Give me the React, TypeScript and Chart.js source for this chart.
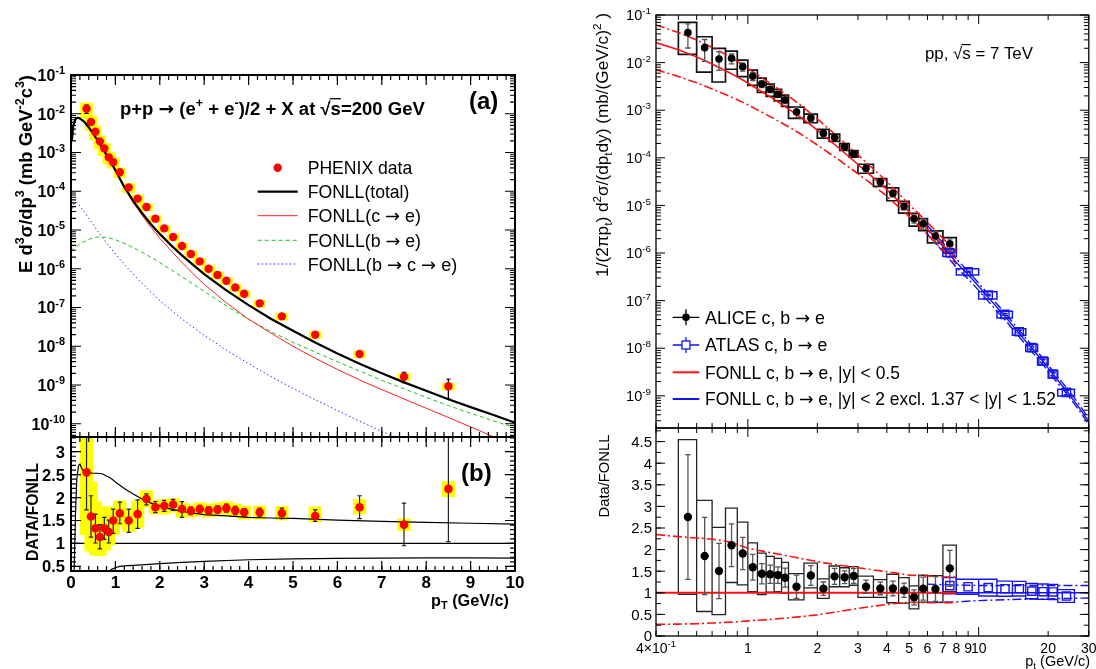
import React, { useEffect, useRef } from 'react';
import { Chart, registerables } from 'chart.js';
Chart.register(...registerables);

const W = 1096;
const H = 669;
const FONT = '"Liberation Sans", Arial, Helvetica, sans-serif';
const ARROW_FONT = '"DejaVu Sans", "Liberation Sans", sans-serif';

// ================= LEFT: PHENIX p+p, sqrt(s)=200 GeV =================
const PHENIX_PT = [0.35, 0.45, 0.55, 0.65, 0.75, 0.85, 0.95, 1.1, 1.3, 1.5, 1.7, 1.9, 2.1, 2.3, 2.5, 2.7, 2.9, 3.1, 3.3, 3.5, 3.7, 3.9, 4.25, 4.75, 5.5, 6.5, 7.5, 8.5];
const PHENIX_YIELD = [1.35e-2, 6.1e-3, 3.45e-3, 1.94e-3, 1.28e-3, 7.5e-4, 5.6e-4, 3.1e-4, 1.26e-4, 6.45e-5, 3.93e-5, 1.96e-5, 1.1e-5, 6.6e-6, 3.86e-6, 2.4e-6, 1.55e-6, 1.0e-6, 6.9e-7, 4.9e-7, 3.3e-7, 2.27e-7, 1.28e-7, 5.9e-8, 1.99e-8, 6.3e-9, 1.64e-9, 9.25e-10];
const PHENIX_STAT_REL = [0.25, 0.15, 0.1, 0.08, 0.08, 0.08, 0.08, 0.06, 0.06, 0.06, 0.05, 0.05, 0.05, 0.05, 0.05, 0.05, 0.05, 0.05, 0.05, 0.05, 0.05, 0.05, 0.06, 0.07, 0.08, 0.14, 0.3, 0.53];
const PHENIX_SYS_REL = [0.42, 0.4, 0.38, 0.36, 0.34, 0.32, 0.3, 0.28, 0.27, 0.25, 0.2, 0.2, 0.2, 0.2, 0.2, 0.2, 0.2, 0.2, 0.2, 0.2, 0.2, 0.2, 0.2, 0.2, 0.2, 0.2, 0.2, 0.2];

const PHENIX_RATIO = [2.55, 1.587, 1.33, 1.14, 1.33, 1.25, 1.5, 1.66, 1.5, 1.64, 1.97, 1.79, 1.82, 1.85, 1.75, 1.71, 1.75, 1.72, 1.74, 1.77, 1.72, 1.68, 1.68, 1.66, 1.6, 1.79, 1.41, 2.19];
const PHENIX_RATIO_STAT_LO = [1.73, 1.14, 1.01, 0.88, 1.09, 1.01, 1.22, 1.43, 1.24, 1.33, 1.84, 1.67, 1.7, 1.72, 1.57, 1.63, 1.67, 1.64, 1.66, 1.68, 1.63, 1.58, 1.58, 1.54, 1.48, 1.54, 0.95, 1.04];
const PHENIX_RATIO_STAT_HI = [3.6, 2.04, 1.64, 1.41, 1.57, 1.51, 1.75, 1.9, 1.75, 1.95, 2.08, 1.91, 1.94, 1.96, 1.91, 1.79, 1.83, 1.8, 1.82, 1.86, 1.81, 1.76, 1.77, 1.77, 1.73, 2.04, 1.88, 3.6];
const PHENIX_RATIO_SYS_LO = [1.19, 0.83, 0.75, 0.73, 0.85, 0.97, 1.19, 1.37, 1.26, 1.35, 1.79, 1.64, 1.64, 1.68, 1.57, 1.58, 1.6, 1.58, 1.6, 1.63, 1.58, 1.53, 1.53, 1.51, 1.47, 1.64, 1.28, 2.02];
const PHENIX_RATIO_SYS_HI = [3.6, 2.33, 1.91, 1.7, 1.8, 1.77, 1.8, 1.93, 1.75, 1.93, 2.15, 1.94, 1.96, 1.98, 1.88, 1.84, 1.89, 1.86, 1.88, 1.91, 1.86, 1.82, 1.82, 1.81, 1.8, 1.96, 1.54, 2.35];

const LEFT_FONLL_PT = [0.02, 0.05, 0.1, 0.15, 0.2, 0.3, 0.4, 0.5, 0.6, 0.7, 0.8, 0.9, 1.0, 1.2, 1.4, 1.6, 1.8, 2.0, 2.25, 2.5, 2.75, 3.0, 3.5, 4.0, 4.5, 5.0, 5.5, 6.0, 6.5, 7.0, 7.5, 8.0, 8.5, 9.0, 9.5, 10.0];
const FONLL_TOTAL = [2.0e-3, 5.01e-3, 7.24e-3, 7.94e-3, 7.59e-3, 6.17e-3, 4.47e-3, 3.09e-3, 2.04e-3, 1.35e-3, 8.71e-4, 5.5e-4, 3.47e-4, 1.29e-4, 5.62e-5, 2.75e-5, 1.41e-5, 7.94e-6, 4.07e-6, 2.21e-6, 1.26e-6, 7.24e-7, 2.78e-7, 1.15e-7, 5.13e-8, 2.51e-8, 1.245e-8, 6.46e-9, 3.52e-9, 2.0e-9, 1.17e-9, 7.08e-10, 4.27e-10, 2.69e-10, 1.7e-10, 1.07e-10];
const FONLL_C = [2.0e-3, 5.01e-3, 7.24e-3, 7.94e-3, 7.59e-3, 6.17e-3, 4.47e-3, 3.09e-3, 2.04e-3, 1.35e-3, 8.71e-4, 5.5e-4, 3.39e-4, 1.23e-4, 5.13e-5, 2.4e-5, 1.17e-5, 6.17e-6, 2.95e-6, 1.45e-6, 7.41e-7, 3.98e-7, 1.32e-7, 5.01e-8, 2.19e-8, 1.0e-8, 4.9e-9, 2.51e-9, 1.35e-9, 7.59e-10, 4.37e-10, 2.51e-10, 1.45e-10, 8.32e-11, 4.68e-11, 2.63e-11];
const FONLL_B_PT = [0, 0.2, 0.4, 0.6, 0.8, 1.0, 1.25, 1.5, 1.75, 2.0, 2.5, 3.0, 3.5, 4.0, 4.5, 5.0, 5.5, 6.0, 6.5, 7.0, 7.5, 8.0, 8.5, 9.0, 9.5, 10.0];
const FONLL_B = [2.88e-6, 4.37e-6, 5.75e-6, 6.61e-6, 6.46e-6, 5.62e-6, 4.27e-6, 3.09e-6, 2.14e-6, 1.45e-6, 6.17e-7, 2.63e-7, 1.1e-7, 4.9e-8, 2.4e-8, 1.26e-8, 7.08e-9, 3.98e-9, 2.29e-9, 1.32e-9, 7.94e-10, 4.79e-10, 2.95e-10, 1.86e-10, 1.2e-10, 7.94e-11];
const FONLL_BC_PT = [0, 0.05, 0.12, 0.2, 0.3, 0.4, 0.5, 0.6, 0.8, 1.0, 1.25, 1.5, 1.75, 2.0, 2.5, 3.0, 3.5, 4.0, 4.5, 5.0, 5.5, 6.0, 6.5, 7.0, 7.5];
const FONLL_BC = [2.82e-5, 4.47e-5, 5.25e-5, 4.17e-5, 2.95e-5, 2.0e-5, 1.38e-5, 9.33e-6, 4.68e-6, 2.4e-6, 1.12e-6, 5.5e-7, 2.82e-7, 1.51e-7, 5.01e-8, 1.91e-8, 7.94e-9, 3.55e-9, 1.66e-9, 8.13e-10, 4.17e-10, 2.19e-10, 1.17e-10, 6.31e-11, 3.55e-11];

const BAND_UP_PT = [0.07, 0.1, 0.13, 0.17, 0.2, 0.25, 0.3, 0.4, 0.5, 0.6, 0.7, 0.8, 0.9, 1.0, 1.2, 1.4, 1.6, 1.8, 2.0, 2.25, 2.5, 2.75, 3.0, 3.5, 4.0, 4.5, 5.0, 6.0, 7.0, 8.0, 9.0, 10.0];
const BAND_UP = [0.4, 1.6, 2.4, 2.7, 2.73, 2.62, 2.56, 2.54, 2.53, 2.53, 2.52, 2.47, 2.42, 2.34, 2.2, 2.08, 1.97, 1.88, 1.82, 1.75, 1.7, 1.66, 1.63, 1.6, 1.57, 1.555, 1.545, 1.51, 1.48, 1.46, 1.44, 1.42];
const BAND_LO_PT = [0.85, 0.9, 1.0, 1.1, 1.2, 1.5, 2.0, 2.5, 3.0, 4.0, 5.0, 6.0, 7.0, 8.0, 9.0, 10.0];
const BAND_LO = [0.38, 0.43, 0.47, 0.5, 0.51, 0.53, 0.56, 0.59, 0.61, 0.645, 0.665, 0.675, 0.68, 0.685, 0.685, 0.68];
const UNITY_X = [0, 10];
const UNITY_Y = [1, 1];

const LT_Y_TICKS = [1e-1, 1e-2, 1e-3, 1e-4, 1e-5, 1e-6, 1e-7, 1e-8, 1e-9, 1e-10];
const LT_Y_LABELS = ['10^-1', '10^-2', '10^-3', '10^-4', '10^-5', '10^-6', '10^-7', '10^-8', '10^-9', '10^-10'];
const LB_Y_TICKS = [0.5, 1, 1.5, 2, 2.5, 3];
const LB_Y_LABELS = ['0.5', '1', '1.5', '2', '2.5', '3'];
const LB_X_TICKS = [0, 1, 2, 3, 4, 5, 6, 7, 8, 9, 10];
const LB_X_LABELS = ['0', '1', '2', '3', '4', '5', '6', '7', '8', '9', '10'];
const LT_LEGEND = ['PHENIX data', 'FONLL(total)', 'FONLL(c \u2192 e)', 'FONLL(b \u2192 e)', 'FONLL(b \u2192 c \u2192 e)'];

// ================= RIGHT: ALICE / ATLAS pp, sqrt(s)=7 TeV =================
const ALICE_PT = [0.55, 0.65, 0.75, 0.85, 0.95, 1.05, 1.15, 1.25, 1.35, 1.45, 1.625, 1.875, 2.125, 2.375, 2.625, 2.875, 3.25, 3.75, 4.25, 4.75, 5.25, 5.75, 6.5, 7.5];
const ALICE_PT_LO = [0.5, 0.6, 0.7, 0.8, 0.9, 1.0, 1.1, 1.2, 1.3, 1.4, 1.5, 1.75, 2.0, 2.25, 2.5, 2.75, 3.0, 3.5, 4.0, 4.5, 5.0, 5.5, 6.0, 7.0];
const ALICE_PT_HI = [0.6, 0.7, 0.8, 0.9, 1.0, 1.1, 1.2, 1.3, 1.4, 1.5, 1.75, 2.0, 2.25, 2.5, 2.75, 3.0, 3.5, 4.0, 4.5, 5.0, 5.5, 6.0, 7.0, 8.0];
const ALICE_YIELD = [4.26e-2, 2.06e-2, 1.19e-2, 1.23e-2, 8.2e-3, 5.15e-3, 3.55e-3, 2.75e-3, 2.15e-3, 1.64e-3, 9.16e-4, 6.85e-4, 3.27e-4, 2.69e-4, 1.71e-4, 1.22e-4, 6.03e-5, 3.1e-5, 1.79e-5, 9.55e-6, 5.26e-6, 4.13e-6, 2.28e-6, 1.57e-6];
const ALICE_STAT_REL = [0.524, 0.483, 0.424, 0.236, 0.196, 0.187, 0.163, 0.147, 0.135, 0.163, 0.237, 0.164, 0.141, 0.134, 0.11, 0.122, 0.136, 0.132, 0.155, 0.156, 0.193, 0.242, 0.264, 0.267];
const ALICE_SYS_REL = [0.65, 0.694, 0.671, 0.41, 0.38, 0.355, 0.333, 0.29, 0.273, 0.263, 0.265, 0.204, 0.205, 0.174, 0.162, 0.155, 0.215, 0.186, 0.3, 0.279, 0.299, 0.283, 0.285, 0.343];
const ALICE_RATIO = [2.755, 1.852, 1.505, 2.1, 1.91, 1.59, 1.44, 1.43, 1.41, 1.35, 1.14, 1.4, 1.096, 1.38, 1.36, 1.39, 1.14, 1.1, 1.1, 1.057, 0.895, 1.096, 1.088, 1.566];

const ATLAS_PT = [7.5, 9, 11, 13, 15, 17, 19, 21, 24];
const ATLAS_PT_LO = [7, 8, 10, 12, 14, 16, 18, 20, 22];
const ATLAS_PT_HI = [8, 10, 12, 14, 16, 18, 20, 22, 26];
const ATLAS_YIELD = [1.01e-6, 4.05e-7, 1.31e-7, 5.15e-8, 2.22e-8, 1.03e-8, 5.38e-9, 2.87e-9, 1.18e-9];
const ATLAS_STAT_REL = [0.03, 0.03, 0.04, 0.05, 0.06, 0.07, 0.08, 0.09, 0.1];
const ATLAS_SYS_REL = [0.163, 0.151, 0.174, 0.16, 0.155, 0.17, 0.173, 0.172, 0.159];
const ATLAS_RATIO = [1.165, 1.14, 1.12, 1.095, 1.095, 1.04, 1.026, 1.02, 0.926];

const FONLL7_PT = [0.4, 0.5, 0.6, 0.7, 0.8, 0.9, 1.0, 1.25, 1.5, 1.75, 2.0, 2.5, 3.0, 3.5, 4.0, 4.5, 5.0, 6.0, 7.0, 8.0];
const FONLL7_C = [2.63e-2, 1.86e-2, 1.32e-2, 9.33e-3, 6.76e-3, 5.01e-3, 3.72e-3, 1.91e-3, 1.07e-3, 6.31e-4, 3.8e-4, 1.55e-4, 7.24e-5, 3.8e-5, 2.14e-5, 1.23e-5, 7.41e-6, 3.16e-6, 1.48e-6, 7.59e-7];
const FONLL7_UP = [6.18e-2, 4.29e-2, 2.99e-2, 2.09e-2, 1.49e-2, 1.06e-2, 7.53e-3, 3.68e-3, 1.98e-3, 1.12e-3, 6.55e-4, 2.54e-4, 1.15e-4, 5.82e-5, 3.18e-5, 1.78e-5, 1.04e-5, 4.4e-6, 2.03e-6, 1.03e-6];
const FONLL7_LO = [7.1e-3, 5.12e-3, 3.76e-3, 2.8e-3, 2.13e-3, 1.66e-3, 1.3e-3, 7.33e-4, 4.5e-4, 2.87e-4, 1.86e-4, 8.83e-5, 4.63e-5, 2.62e-5, 1.56e-5, 9.35e-6, 5.78e-6, 2.43e-6, 1.14e-6, 5.83e-7];
const FONLL7_RATIO_UP = [2.35, 2.3, 2.27, 2.24, 2.2, 2.12, 2.03, 1.93, 1.85, 1.78, 1.72, 1.64, 1.58, 1.53, 1.49, 1.45, 1.41, 1.39, 1.37, 1.36];
const FONLL7_RATIO_LO = [0.27, 0.275, 0.285, 0.3, 0.315, 0.33, 0.35, 0.385, 0.42, 0.455, 0.49, 0.57, 0.64, 0.69, 0.73, 0.76, 0.78, 0.77, 0.77, 0.77];
const RED_UNITY_X = [0.4, 8];

const FONLLA_PT = [6, 7, 8, 9, 10, 11, 12, 13, 15, 17, 19, 21, 24, 27, 30];
const FONLLA_C = [3.16e-6, 1.38e-6, 6.31e-7, 3.55e-7, 2.0e-7, 1.17e-7, 7.24e-8, 4.7e-8, 2.03e-8, 9.86e-9, 5.25e-9, 2.81e-9, 1.28e-9, 6.03e-10, 2.86e-10];
const FONLLA_UP = [3.79e-6, 1.64e-6, 7.45e-7, 4.17e-7, 2.33e-7, 1.37e-7, 8.47e-8, 5.5e-8, 2.37e-8, 1.15e-8, 6.14e-9, 3.28e-9, 1.49e-9, 7.05e-10, 3.34e-10];
const FONLLA_LO = [2.47e-6, 1.08e-6, 4.99e-7, 2.86e-7, 1.64e-7, 9.7e-8, 6.08e-8, 3.97e-8, 1.72e-8, 8.43e-9, 4.51e-9, 2.43e-9, 1.11e-9, 5.27e-10, 2.51e-10];
const FONLLA_RATIO_PT = [6, 8, 10, 15, 20, 30];
const FONLLA_RATIO_UP = [1.2, 1.18, 1.17, 1.17, 1.17, 1.17];
const FONLLA_RATIO_LO = [0.78, 0.79, 0.82, 0.85, 0.86, 0.88];
const BLUE_UNITY_X = [6, 30];

const RT_Y_TICKS = [1e-1, 1e-2, 1e-3, 1e-4, 1e-5, 1e-6, 1e-7, 1e-8, 1e-9];
const RT_Y_LABELS = ['10^-1', '10^-2', '10^-3', '10^-4', '10^-5', '10^-6', '10^-7', '10^-8', '10^-9'];
const RB_Y_TICKS = [0, 0.5, 1, 1.5, 2, 2.5, 3, 3.5, 4, 4.5];
const RB_Y_LABELS = ['0', '0.5', '1', '1.5', '2', '2.5', '3', '3.5', '4', '4.5'];
const RB_X_TICKS = [0.4, 1, 2, 3, 4, 5, 6, 7, 8, 9, 10, 20, 30];
const RB_X_LABELS = ['4\u00d710^-1', '1', '2', '3', '4', '5', '6', '7', '8', '9', '10', '20', '30'];
const RT_LEGEND = ['ALICE c, b \u2192 e', 'ATLAS c, b \u2192 e', 'FONLL c, b \u2192 e, |y| < 0.5', 'FONLL c, b \u2192 e, |y| < 2 excl. 1.37 < |y| < 1.52'];

// ================= helpers =================
const BLUE = '#1414f0';
const pts = (xs: number[], ys: number[]) => xs.map((x, i) => ({ x, y: ys[i] }));
const gap = (x: number) => ({ x, y: null as any });

function errPath(xs: number[], lo: number[], hi: number[], cl: (x: number) => number, cr: (x: number) => number) {
  const out: any[] = [];
  xs.forEach((x, i) => {
    out.push({ x, y: hi[i] }, { x, y: lo[i] }, gap(x));
    out.push({ x: cl(x), y: hi[i] }, { x: cr(x), y: hi[i] }, gap(x));
    out.push({ x: cl(x), y: lo[i] }, { x: cr(x), y: lo[i] }, gap(x));
  });
  return out;
}
function boxPath(x0: number[], x1: number[], lo: number[], hi: number[]) {
  const out: any[] = [];
  x0.forEach((a, i) => {
    const b = x1[i];
    out.push({ x: a, y: lo[i] }, { x: b, y: lo[i] }, { x: b, y: hi[i] }, { x: a, y: hi[i] }, { x: a, y: lo[i] }, gap(a));
  });
  return out;
}
function lineDs(data: any[], color: string, width: number, extra: any = {}) {
  return { type: 'line', data, borderColor: color, borderWidth: width, pointRadius: 0, pointHoverRadius: 0, fill: false, tension: 0, spanGaps: false, clip: 0, ...extra };
}
function markerDs(data: any[], extra: any) {
  return { type: 'line', data, showLine: false, clip: 0, pointBorderWidth: 0, ...extra };
}
const scaleRel = (v: number[], rel: number[], s: number) => v.map((y, i) => y * (1 + s * rel[i]));

function fontStr(size: number, bold?: boolean, fam: string = FONT) {
  return `${bold ? 'bold ' : ''}${size.toFixed(2)}px ${fam}`;
}
type Run = { t: string; s?: 'sup' | 'sub'; over?: boolean };
// split text so that arrows are drawn with a font that has a long arrow glyph
function pieces(t: string) {
  const out: { t: string; arrow: boolean }[] = [];
  t.split(/(\u2192)/).forEach((p) => { if (p) out.push({ t: p, arrow: p === '\u2192' }); });
  return out;
}
function runWidth(ctx: CanvasRenderingContext2D, r: Run, size: number, bold?: boolean) {
  const fs = r.s ? size * 0.68 : size;
  let w = 0;
  for (const p of pieces(r.t)) {
    ctx.font = fontStr(fs, bold, p.arrow ? ARROW_FONT : FONT);
    w += ctx.measureText(p.t).width;
  }
  return w;
}
function richWidth(ctx: CanvasRenderingContext2D, runs: Run[], size: number, bold?: boolean) {
  return runs.reduce((s, r) => s + runWidth(ctx, r, size, bold), 0);
}
function drawRich(ctx: CanvasRenderingContext2D, runs: Run[], x: number, y: number, o: any) {
  let size = o.size;
  if (o.fit) size = (size * o.fit) / richWidth(ctx, runs, size, o.bold);
  const w = richWidth(ctx, runs, size, o.bold);
  ctx.save();
  ctx.translate(x, y);
  if (o.rot) ctx.rotate(-Math.PI / 2);
  let cx = o.align === 'center' ? -w / 2 : o.align === 'right' ? -w : 0;
  const base = size * 0.36;
  ctx.fillStyle = o.color || '#000';
  ctx.strokeStyle = o.color || '#000';
  ctx.textAlign = 'left';
  ctx.textBaseline = 'alphabetic';
  for (const r of runs) {
    const fs = r.s ? size * 0.68 : size;
    const dy = r.s === 'sup' ? -size * 0.42 : r.s === 'sub' ? size * 0.22 : 0;
    const start = cx;
    for (const p of pieces(r.t)) {
      ctx.font = fontStr(fs, o.bold, p.arrow ? ARROW_FONT : FONT);
      ctx.fillText(p.t, cx, base + dy);
      cx += ctx.measureText(p.t).width;
    }
    if (r.over) {
      ctx.lineWidth = Math.max(1, size * 0.07);
      ctx.beginPath();
      ctx.moveTo(start - size * 0.05, base - size * 0.86);
      ctx.lineTo(cx, base - size * 0.86);
      ctx.stroke();
    }
  }
  ctx.restore();
}
function labelRuns(label: string): Run[] {
  const i = label.indexOf('^');
  if (i < 0) return [{ t: label }];
  return [{ t: label.slice(0, i) }, { t: label.slice(i + 1), s: 'sup' }];
}
function linVals(from: number, to: number, step: number) {
  const out: number[] = [];
  for (let k = 0; from + k * step <= to + 1e-9; k++) out.push(+(from + k * step).toFixed(6));
  return out;
}
function logMinor(e0: number, e1: number) {
  const out: number[] = [];
  for (let e = e0; e <= e1; e++) for (let k = 2; k <= 9; k++) out.push(k * Math.pow(10, e));
  return out;
}
function tickX(ctx: any, a: any, sc: any, vals: number[], len: number) {
  ctx.beginPath();
  for (const v of vals) {
    const p = sc.getPixelForValue(v);
    if (p < a.left - 0.5 || p > a.right + 0.5) continue;
    ctx.moveTo(p, a.bottom); ctx.lineTo(p, a.bottom - len);
    ctx.moveTo(p, a.top); ctx.lineTo(p, a.top + len);
  }
  ctx.stroke();
}
function tickY(ctx: any, a: any, sc: any, vals: number[], len: number) {
  ctx.beginPath();
  for (const v of vals) {
    const p = sc.getPixelForValue(v);
    if (p < a.top - 0.5 || p > a.bottom + 0.5) continue;
    ctx.moveTo(a.left, p); ctx.lineTo(a.left + len, p);
    ctx.moveTo(a.right, p); ctx.lineTo(a.right - len, p);
  }
  ctx.stroke();
}
function frame(ctx: any, a: any, lw: number) {
  ctx.lineWidth = lw;
  ctx.strokeStyle = '#000';
  ctx.strokeRect(a.left, a.top, a.right - a.left, a.bottom - a.top);
}

// ================= decorations =================
const LT_LEGEND_W = [104.6, 101.7, 113.3, 113.3, 149.7];
const RT_LEGEND_W = [120, 122.3, 195, 350.7];

function decoLT(chart: any) {
  const { ctx, chartArea: a } = chart;
  const xs = chart.scales.x, ys = chart.scales.y;
  ctx.save();
  ctx.strokeStyle = '#000';
  ctx.lineWidth = 1.2;
  tickX(ctx, a, xs, LB_X_TICKS, 10);
  tickX(ctx, a, xs, linVals(0, 10, 0.2), 5);
  tickY(ctx, a, ys, LT_Y_TICKS, 10);
  tickY(ctx, a, ys, logMinor(-11, -2), 5);
  frame(ctx, a, 2);
  LT_Y_TICKS.forEach((v, i) => drawRich(ctx, labelRuns(LT_Y_LABELS[i]), a.left - 6, ys.getPixelForValue(v), { size: 16, bold: true, align: 'right' }));
  drawRich(ctx, [{ t: 'p+p \u2192 (e' }, { t: '+', s: 'sup' }, { t: ' + e' }, { t: '-', s: 'sup' }, { t: ')/2 + X at \u221a' }, { t: 's', over: true }, { t: '=200 GeV' }], 120, 108, { size: 17, bold: true, fit: 305 });
  drawRich(ctx, [{ t: '(a)' }], 469, 100, { size: 24, bold: true });
  drawRich(ctx, [{ t: 'E d' }, { t: '3', s: 'sup' }, { t: '\u03c3/dp' }, { t: '3', s: 'sup' }, { t: ' (mb GeV' }, { t: '-2', s: 'sup' }, { t: 'c' }, { t: '3', s: 'sup' }, { t: ')' }], 25, 174, { size: 18, bold: true, rot: true, align: 'center', fit: 198 });
  // legend
  const ly = [167.7, 191.7, 215.7, 240.3, 264];
  const x0 = 257.7, x1 = 297.7;
  ctx.fillStyle = '#ff0000';
  ctx.beginPath(); ctx.arc((x0 + x1) / 2, ly[0], 4.2, 0, Math.PI * 2); ctx.fill();
  const styles = [['#000', 2.2, []], ['#ff2020', 1, []], ['#1bc41b', 1, [4, 3]], ['#2a2aff', 1, [1.5, 2.5]]];
  styles.forEach((s: any, i) => {
    ctx.strokeStyle = s[0]; ctx.lineWidth = s[1]; ctx.setLineDash(s[2]);
    ctx.beginPath(); ctx.moveTo(x0, ly[i + 1]); ctx.lineTo(x1, ly[i + 1]); ctx.stroke();
  });
  ctx.setLineDash([]);
  LT_LEGEND.forEach((t, i) => drawRich(ctx, [{ t }], 307.7, ly[i], { size: 17.5, fit: LT_LEGEND_W[i] }));
  ctx.restore();
}

function decoLB(chart: any) {
  const { ctx, chartArea: a } = chart;
  const xs = chart.scales.x, ys = chart.scales.y;
  ctx.save();
  ctx.strokeStyle = '#000';
  ctx.lineWidth = 1.2;
  tickX(ctx, a, xs, LB_X_TICKS, 10);
  tickX(ctx, a, xs, linVals(0, 10, 0.2), 5);
  tickY(ctx, a, ys, LB_Y_TICKS, 10);
  tickY(ctx, a, ys, linVals(0.4, 3.3, 0.1), 5);
  frame(ctx, a, 2);
  LB_Y_TICKS.forEach((v, i) => drawRich(ctx, labelRuns(LB_Y_LABELS[i]), a.left - 6, ys.getPixelForValue(v), { size: 16.5, bold: true, align: 'right' }));
  LB_X_TICKS.forEach((v, i) => drawRich(ctx, labelRuns(LB_X_LABELS[i]), xs.getPixelForValue(v), a.bottom + 11, { size: 17, bold: true, align: 'center' }));
  drawRich(ctx, [{ t: 'p' }, { t: 'T', s: 'sub' }, { t: ' (GeV/c)' }], 509, 600, { size: 17, bold: true, align: 'right', fit: 78 });
  drawRich(ctx, [{ t: 'DATA/FONLL' }], 32.5, 512, { size: 17, bold: true, rot: true, align: 'center', fit: 98 });
  drawRich(ctx, [{ t: '(b)' }], 461, 472, { size: 24, bold: true });
  ctx.restore();
}

const LOG_X_MINOR = [0.4, 0.5, 0.6, 0.7, 0.8, 0.9, 2, 3, 4, 5, 6, 7, 8, 9, 20, 30];
const LOG_X_MAJOR = [1, 10];

function decoRT(chart: any) {
  const { ctx, chartArea: a } = chart;
  const xs = chart.scales.x, ys = chart.scales.y;
  ctx.save();
  ctx.strokeStyle = '#000';
  ctx.lineWidth = 1;
  tickX(ctx, a, xs, LOG_X_MAJOR, 9);
  tickX(ctx, a, xs, LOG_X_MINOR, 5);
  tickY(ctx, a, ys, RT_Y_TICKS, 9);
  tickY(ctx, a, ys, logMinor(-10, -2), 5);
  frame(ctx, a, 1.3);
  RT_Y_TICKS.forEach((v, i) => drawRich(ctx, labelRuns(RT_Y_LABELS[i]), a.left - 5, ys.getPixelForValue(v), { size: 14.5, align: 'right' }));
  drawRich(ctx, [{ t: '1/(2\u03c0p' }, { t: 't', s: 'sub' }, { t: ') d' }, { t: '2', s: 'sup' }, { t: '\u03c3/(dp' }, { t: 't', s: 'sub' }, { t: 'dy) (mb/(GeV/c)' }, { t: '2', s: 'sup' }, { t: ' )' }], 602, 145, { size: 16, rot: true, align: 'center', fit: 264 });
  drawRich(ctx, [{ t: 'pp, \u221a' }, { t: 's', over: true }, { t: ' = 7 TeV' }], 925, 53, { size: 17, fit: 108 });
  // legend
  const ly = [317.3, 345, 372.3, 399];
  const x0 = 672.7, x1 = 699.3, xm = (x0 + x1) / 2;
  ctx.lineWidth = 1.3;
  ctx.strokeStyle = '#000';
  ctx.beginPath(); ctx.moveTo(x0, ly[0]); ctx.lineTo(x1, ly[0]); ctx.moveTo(xm, ly[0] - 8); ctx.lineTo(xm, ly[0] + 8); ctx.stroke();
  ctx.fillStyle = '#000';
  ctx.beginPath(); ctx.arc(xm, ly[0], 3.8, 0, Math.PI * 2); ctx.fill();
  ctx.strokeStyle = BLUE;
  ctx.beginPath(); ctx.moveTo(x0, ly[1]); ctx.lineTo(xm - 4, ly[1]); ctx.moveTo(xm + 4, ly[1]); ctx.lineTo(x1, ly[1]); ctx.moveTo(xm, ly[1] - 8); ctx.lineTo(xm, ly[1] - 4); ctx.moveTo(xm, ly[1] + 4); ctx.lineTo(xm, ly[1] + 8); ctx.stroke();
  ctx.strokeRect(xm - 4, ly[1] - 4, 8, 8);
  ctx.lineWidth = 2;
  ctx.strokeStyle = '#ff1010';
  ctx.beginPath(); ctx.moveTo(x0, ly[2]); ctx.lineTo(x1, ly[2]); ctx.stroke();
  ctx.strokeStyle = BLUE;
  ctx.beginPath(); ctx.moveTo(x0, ly[3]); ctx.lineTo(x1, ly[3]); ctx.stroke();
  RT_LEGEND.forEach((t, i) => drawRich(ctx, [{ t }], 705, ly[i], { size: 17.4, fit: RT_LEGEND_W[i] }));
  ctx.restore();
}

function decoRB(chart: any) {
  const { ctx, chartArea: a } = chart;
  const xs = chart.scales.x, ys = chart.scales.y;
  ctx.save();
  ctx.strokeStyle = '#000';
  ctx.lineWidth = 1;
  tickX(ctx, a, xs, LOG_X_MAJOR, 9);
  tickX(ctx, a, xs, LOG_X_MINOR, 5);
  tickY(ctx, a, ys, RB_Y_TICKS, 9);
  tickY(ctx, a, ys, linVals(0, 4.75, 0.25), 5);
  frame(ctx, a, 1.3);
  RB_Y_TICKS.forEach((v, i) => drawRich(ctx, labelRuns(RB_Y_LABELS[i]), a.left - 4, ys.getPixelForValue(v), { size: 15, align: 'right' }));
  RB_X_TICKS.forEach((v, i) => drawRich(ctx, labelRuns(RB_X_LABELS[i]), xs.getPixelForValue(v), a.bottom + 12, { size: 14, align: 'center' }));
  drawRich(ctx, [{ t: 'p' }, { t: 't', s: 'sub' }, { t: ' (GeV/c)' }], 1090, 661, { size: 14.5, align: 'right' });
  drawRich(ctx, [{ t: 'Data/FONLL' }], 604, 476, { size: 16, rot: true, align: 'center', fit: 83 });
  ctx.restore();
}

// ================= datasets =================
function leftTopDatasets() {
  return [
    { type: 'bar', data: PHENIX_PT.map((x, i) => ({ x, y: [PHENIX_YIELD[i] * (1 - PHENIX_SYS_REL[i]), PHENIX_YIELD[i] * (1 + PHENIX_SYS_REL[i])] })), backgroundColor: '#ffff00', borderWidth: 0, barThickness: 12, grouped: false, order: 10, clip: 0 },
    lineDs(pts(FONLL_BC_PT, FONLL_BC), '#2a2aff', 1, { borderDash: [1.5, 2.5], order: 6 }),
    lineDs(pts(FONLL_B_PT, FONLL_B), '#1bc41b', 1, { borderDash: [4, 3], order: 5 }),
    lineDs(pts(LEFT_FONLL_PT, FONLL_C), '#ff2020', 1, { order: 4 }),
    lineDs(pts(LEFT_FONLL_PT, FONLL_TOTAL), '#000', 2.2, { order: 3 }),
    lineDs(errPath(PHENIX_PT, scaleRel(PHENIX_YIELD, PHENIX_STAT_REL, -1), scaleRel(PHENIX_YIELD, PHENIX_STAT_REL, 1), (x) => x - 0.05, (x) => x + 0.05), '#000', 1, { order: 2 }),
    markerDs(pts(PHENIX_PT, PHENIX_YIELD), { pointRadius: 4.2, pointHoverRadius: 4.2, pointBackgroundColor: '#ff0000', pointBorderColor: '#ff0000', order: 1 }),
  ];
}
function leftBottomDatasets() {
  return [
    lineDs(pts(UNITY_X, UNITY_Y), '#000', 1.2, { order: 12 }),
    { type: 'bar', data: PHENIX_PT.map((x, i) => ({ x, y: [PHENIX_RATIO_SYS_LO[i], PHENIX_RATIO_SYS_HI[i]] })), backgroundColor: '#ffff00', borderWidth: 0, barThickness: 12.5, grouped: false, order: 10, clip: 0 },
    lineDs(pts(BAND_UP_PT, BAND_UP), '#000', 1.2, { order: 4 }),
    lineDs(pts(BAND_LO_PT, BAND_LO), '#000', 1.2, { order: 4 }),
    lineDs(errPath(PHENIX_PT, PHENIX_RATIO_STAT_LO, PHENIX_RATIO_STAT_HI, (x) => x - 0.05, (x) => x + 0.05), '#222', 1.2, { order: 2 }),
    markerDs(pts(PHENIX_PT, PHENIX_RATIO), { pointRadius: 4.3, pointHoverRadius: 4.3, pointBackgroundColor: '#ff0000', pointBorderColor: '#ff0000', order: 1 }),
  ];
}
const DASHDOT = [9, 3, 2, 3];
const capL = (x: number) => x / 1.028;
const capR = (x: number) => x * 1.028;
function rightTopDatasets() {
  return [
    lineDs(boxPath(ALICE_PT_LO, ALICE_PT_HI, scaleRel(ALICE_YIELD, ALICE_SYS_REL, -1), scaleRel(ALICE_YIELD, ALICE_SYS_REL, 1)), '#111', 1.7, { order: 9, borderCapStyle: 'square' }),
    lineDs(boxPath(ATLAS_PT_LO, ATLAS_PT_HI, scaleRel(ATLAS_YIELD, ATLAS_SYS_REL, -1), scaleRel(ATLAS_YIELD, ATLAS_SYS_REL, 1)), BLUE, 1.5, { order: 8, borderCapStyle: 'square' }),
    lineDs(pts(FONLL7_PT, FONLL7_UP), '#ff1010', 1.6, { borderDash: DASHDOT, order: 6 }),
    lineDs(pts(FONLL7_PT, FONLL7_LO), '#ff1010', 1.6, { borderDash: DASHDOT, order: 6 }),
    lineDs(pts(FONLLA_PT, FONLLA_UP), BLUE, 1.4, { borderDash: DASHDOT, order: 6 }),
    lineDs(pts(FONLLA_PT, FONLLA_LO), BLUE, 1.4, { borderDash: DASHDOT, order: 6 }),
    lineDs(pts(FONLL7_PT, FONLL7_C), '#ff1010', 1.6, { order: 5 }),
    lineDs(pts(FONLLA_PT, FONLLA_C), BLUE, 1.4, { order: 5 }),
    lineDs(errPath(ALICE_PT, scaleRel(ALICE_YIELD, ALICE_STAT_REL, -1), scaleRel(ALICE_YIELD, ALICE_STAT_REL, 1), capL, capR), '#555', 1.3, { order: 2 }),
    lineDs(errPath(ATLAS_PT, scaleRel(ATLAS_YIELD, ATLAS_STAT_REL, -1), scaleRel(ATLAS_YIELD, ATLAS_STAT_REL, 1), capL, capR), BLUE, 1.1, { order: 2 }),
    markerDs(pts(ALICE_PT, ALICE_YIELD), { pointRadius: 3.8, pointHoverRadius: 3.8, pointBackgroundColor: '#000', pointBorderColor: '#000', order: 1 }),
    markerDs(pts(ATLAS_PT, ATLAS_YIELD), { pointStyle: 'rect', pointRadius: 5.8, pointHoverRadius: 5.8, pointBackgroundColor: 'rgba(0,0,0,0)', pointBorderColor: BLUE, pointBorderWidth: 1.4, order: 1 }),
  ];
}
function rightBottomDatasets() {
  const ones7 = RED_UNITY_X.map(() => 1);
  const onesA = BLUE_UNITY_X.map(() => 1);
  return [
    lineDs(boxPath(ALICE_PT_LO, ALICE_PT_HI, scaleRel(ALICE_RATIO, ALICE_SYS_REL, -1), scaleRel(ALICE_RATIO, ALICE_SYS_REL, 1)), '#222', 1.3, { order: 9, borderCapStyle: 'square' }),
    lineDs(boxPath(ATLAS_PT_LO, ATLAS_PT_HI, scaleRel(ATLAS_RATIO, ATLAS_SYS_REL, -1), scaleRel(ATLAS_RATIO, ATLAS_SYS_REL, 1)), BLUE, 1.4, { order: 8, borderCapStyle: 'square' }),
    lineDs(pts(FONLL7_PT, FONLL7_RATIO_UP), '#ff1010', 1.6, { borderDash: DASHDOT, order: 6 }),
    lineDs(pts(FONLL7_PT, FONLL7_RATIO_LO), '#ff1010', 1.6, { borderDash: DASHDOT, order: 6 }),
    lineDs(pts(FONLLA_RATIO_PT, FONLLA_RATIO_UP), BLUE, 1.4, { borderDash: DASHDOT, order: 6 }),
    lineDs(pts(FONLLA_RATIO_PT, FONLLA_RATIO_LO), BLUE, 1.4, { borderDash: DASHDOT, order: 6 }),
    lineDs(pts(RED_UNITY_X, ones7), '#ff1010', 2, { order: 5 }),
    lineDs(pts(BLUE_UNITY_X, onesA), BLUE, 1.6, { order: 5 }),
    lineDs(errPath(ALICE_PT, scaleRel(ALICE_RATIO, ALICE_STAT_REL, -1), scaleRel(ALICE_RATIO, ALICE_STAT_REL, 1), capL, capR), '#555', 1.3, { order: 2 }),
    markerDs(pts(ALICE_PT, ALICE_RATIO), { pointRadius: 4.2, pointHoverRadius: 4.2, pointBackgroundColor: '#000', pointBorderColor: '#000', order: 1 }),
    markerDs(pts(ATLAS_PT, ATLAS_RATIO), { pointStyle: 'rect', pointRadius: 5.8, pointHoverRadius: 5.8, pointBackgroundColor: 'rgba(0,0,0,0)', pointBorderColor: BLUE, pointBorderWidth: 1.4, order: 1 }),
  ];
}

function build(canvas: HTMLCanvasElement, area: any, xs: any, ysc: any, datasets: any[], deco: (c: any) => void) {
  return new Chart(canvas, {
    type: 'line',
    data: { datasets } as any,
    options: {
      animation: false,
      responsive: false,
      maintainAspectRatio: false,
      devicePixelRatio: 1,
      events: [],
      layout: { padding: { left: area.l, top: area.t, right: W - area.r, bottom: H - area.b } },
      plugins: { legend: { display: false }, tooltip: { enabled: false }, title: { display: false } },
      scales: {
        x: { type: xs.type, min: xs.min, max: xs.max, display: false, offset: false },
        y: { type: ysc.type, min: ysc.min, max: ysc.max, display: false, beginAtZero: false },
      },
    } as any,
    plugins: [{ id: 'rootDeco', afterDraw: deco }],
  });
}

export default function App() {
  const r1 = useRef<HTMLCanvasElement>(null);
  const r2 = useRef<HTMLCanvasElement>(null);
  const r3 = useRef<HTMLCanvasElement>(null);
  const r4 = useRef<HTMLCanvasElement>(null);
  useEffect(() => {
    const charts = [
      build(r1.current!, { l: 71, r: 515, t: 75, b: 437 }, { type: 'linear', min: 0, max: 10 }, { type: 'logarithmic', min: 4.55e-11, max: 0.1 }, leftTopDatasets(), decoLT),
      build(r2.current!, { l: 71, r: 515, t: 437, b: 571 }, { type: 'linear', min: 0, max: 10 }, { type: 'linear', min: 0.4, max: 3.32 }, leftBottomDatasets(), decoLB),
      build(r3.current!, { l: 656, r: 1092, t: 15, b: 428 }, { type: 'logarithmic', min: 0.4, max: 30 }, { type: 'logarithmic', min: 2.11e-10, max: 0.1 }, rightTopDatasets(), decoRT),
      build(r4.current!, { l: 656, r: 1092, t: 428, b: 636 }, { type: 'logarithmic', min: 0.4, max: 30 }, { type: 'linear', min: 0, max: 4.815 }, rightBottomDatasets(), decoRB),
    ];
    return () => charts.forEach((c) => c.destroy());
  }, []);
  const cs: React.CSSProperties = { position: 'absolute', left: 0, top: 0, width: W, height: H };
  return (
    <div style={{ position: 'absolute', left: 0, top: 0, width: W, height: H, background: '#fff', overflow: 'hidden' }}>
      <canvas ref={r1} width={W} height={H} style={cs} />
      <canvas ref={r2} width={W} height={H} style={cs} />
      <canvas ref={r3} width={W} height={H} style={cs} />
      <canvas ref={r4} width={W} height={H} style={cs} />
    </div>
  );
}
